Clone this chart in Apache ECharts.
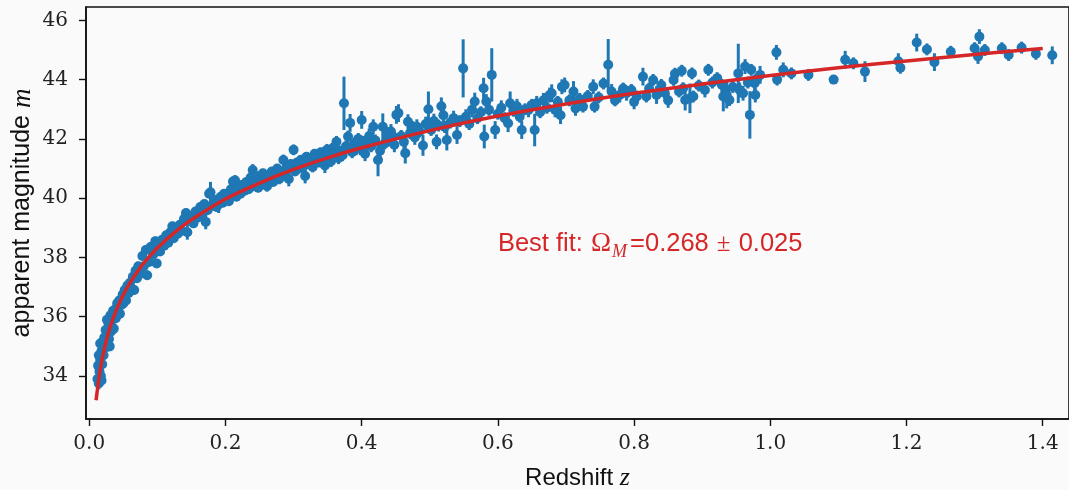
<!DOCTYPE html>
<html>
<head>
<meta charset="utf-8">
<script src="https://cdn.jsdelivr.net/npm/echarts@6/dist/echarts.min.js"></script>
<style>
  html, body { margin: 0; padding: 0; background: #fafafa; }
  #chart { width: 1069px; height: 490px; }
</style>
</head>
<body>
<div id="chart"></div>
<script>
// supernovae: [redshift z, apparent magnitude m, error]
var lowZ = [
  [0.012,33.90,0.20],[0.013,34.35,0.20],[0.014,33.75,0.20],[0.014,34.70,0.18],[0.015,34.15,0.18],
  [0.016,34.55,0.18],[0.016,35.10,0.18],[0.017,34.00,0.18],[0.018,34.85,0.16],[0.018,33.85,0.18],
  [0.019,34.40,0.16],[0.020,35.00,0.16],[0.021,34.70,0.16],[0.022,35.30,0.16],[0.023,34.95,0.16],
  [0.024,35.55,0.15],[0.025,35.20,0.15],[0.026,35.90,0.15],[0.027,35.45,0.15],[0.028,35.80,0.15],
  [0.029,35.25,0.15],[0.030,35.00,0.15],[0.030,35.65,0.15],[0.031,36.05,0.15],[0.032,35.50,0.15],
  [0.034,35.90,0.15],[0.035,36.20,0.15],[0.036,35.60,0.15],[0.038,36.25,0.15],[0.039,35.95,0.15],
  [0.041,36.45,0.15],[0.042,36.10,0.15],[0.044,36.55,0.15],[0.045,36.10,0.15],[0.047,36.40,0.15],
  [0.049,36.75,0.15],[0.050,36.45,0.15],[0.052,36.90,0.15],[0.054,36.55,0.15],[0.056,37.05,0.15],
  [0.058,36.80,0.15],[0.060,37.15,0.15],[0.062,36.95,0.15],[0.064,37.35,0.15],[0.066,36.90,0.15],
  [0.068,37.55,0.15],[0.070,37.30,0.15],[0.072,37.70,0.15],[0.075,37.45,0.15],[0.078,38.05,0.15],
  [0.080,37.70,0.15],[0.083,38.25,0.15],[0.085,37.40,0.15],[0.088,37.85,0.15],[0.090,38.35,0.15],
  [0.094,38.10,0.15],[0.097,38.55,0.15],[0.099,37.80,0.15]
];
var midZ = [
  [0.101,38.45,0.15],[0.104,38.20,0.15],[0.107,38.60,0.15],[0.110,38.40,0.15],[0.113,38.75,0.15],
  [0.116,38.50,0.15],[0.119,38.85,0.15],[0.122,39.05,0.15],[0.124,38.65,0.15],[0.127,38.95,0.15],
  [0.130,38.80,0.15],[0.133,39.10,0.15],[0.136,38.90,0.15],[0.139,39.30,0.15],[0.142,39.50,0.15],
  [0.144,38.85,0.25],[0.147,39.25,0.15],[0.150,39.40,0.15],[0.153,39.15,0.15],[0.156,39.55,0.15],
  [0.160,39.35,0.15],[0.163,39.70,0.15],[0.166,39.45,0.15],[0.169,39.80,0.15],[0.171,39.20,0.25],
  [0.174,39.60,0.15],[0.176,40.15,0.15],[0.178,40.20,0.35],[0.181,39.75,0.15],[0.184,39.95,0.15],
  [0.187,39.70,0.15],[0.190,39.80,0.30],[0.193,40.05,0.15],[0.196,39.85,0.15],[0.198,40.15,0.15],
  [0.202,40.10,0.15],[0.205,39.90,0.15],[0.208,40.30,0.15],[0.211,40.56,0.15],[0.214,40.60,0.18],
  [0.216,40.05,0.15],[0.219,40.35,0.15],[0.222,40.15,0.15],[0.225,40.45,0.15],[0.228,40.25,0.15],
  [0.231,40.55,0.15],[0.234,40.30,0.15],[0.237,40.70,0.15],[0.240,40.95,0.20],[0.242,40.40,0.15],
  [0.245,40.60,0.15],[0.248,40.35,0.15],[0.250,40.75,0.15],[0.253,40.50,0.15],[0.255,40.84,0.15],
  [0.258,40.60,0.15],[0.261,40.40,0.18],[0.264,40.75,0.15],[0.268,40.90,0.15],[0.270,40.55,0.15],
  [0.273,40.80,0.15],[0.276,41.00,0.15],[0.279,40.65,0.18],[0.282,40.90,0.15],[0.285,41.29,0.18],
  [0.288,40.80,0.15],[0.290,41.05,0.15],[0.293,40.65,0.25],[0.296,41.15,0.15],[0.300,41.63,0.18],
  [0.302,40.90,0.15],[0.305,41.20,0.15],[0.308,41.00,0.15],[0.311,41.30,0.15],[0.314,41.06,0.20],
  [0.317,40.75,0.25],[0.319,41.40,0.15],[0.322,41.15,0.15],[0.325,41.35,0.15],[0.328,41.05,0.18],
  [0.331,41.50,0.15],[0.334,41.40,0.20],[0.337,41.20,0.15],[0.340,41.55,0.15],[0.343,41.30,0.20],
  [0.346,41.10,0.25],[0.349,41.63,0.20],[0.352,41.40,0.15],[0.355,41.25,0.20],[0.358,41.70,0.15],
  [0.360,41.50,0.15],[0.363,41.90,0.20],[0.366,41.35,0.20],[0.369,41.60,0.15],[0.372,41.45,0.20],
  [0.374,43.20,0.90],[0.377,41.75,0.20],[0.380,42.08,0.20],[0.383,42.54,0.30],[0.386,41.55,0.20],
  [0.389,41.85,0.20],[0.392,41.65,0.20],[0.395,42.00,0.20],[0.398,41.70,0.25],[0.400,42.64,0.30],
  [0.402,41.90,0.20],[0.405,41.50,0.25],[0.408,41.80,0.20],[0.411,42.10,0.25],[0.414,41.75,0.20],
  [0.417,42.41,0.25],[0.420,41.95,0.20],[0.424,41.29,0.55],[0.427,41.60,0.25],[0.431,42.41,0.45],
  [0.434,41.85,0.20],[0.437,42.15,0.25],[0.440,41.95,0.20],[0.443,42.25,0.25],[0.446,42.08,0.20],
  [0.448,41.80,0.25]
];
var highZ = [
  [0.451,42.81,0.30],[0.454,42.87,0.30],[0.458,42.10,0.20],[0.462,41.90,0.25],[0.464,41.52,0.35],
  [0.468,42.58,0.25],[0.471,42.20,0.20],[0.475,42.40,0.20],[0.478,42.05,0.25],[0.481,42.41,0.25],
  [0.485,42.25,0.20],[0.490,41.78,0.35],[0.494,42.50,0.25],[0.498,43.00,0.60],[0.502,42.30,0.20],
  [0.506,42.60,0.25],[0.510,41.90,0.25],[0.513,42.45,0.20],[0.517,43.10,0.30],[0.520,42.80,0.25],
  [0.522,42.40,0.20],[0.525,41.96,0.35],[0.530,42.55,0.20],[0.535,42.70,0.25],[0.540,42.13,0.30],
  [0.544,42.60,0.20],[0.549,44.38,0.98],[0.553,42.75,0.25],[0.558,42.50,0.20],[0.562,42.98,0.25],
  [0.566,43.26,0.30],[0.570,42.70,0.20],[0.575,42.90,0.20],[0.579,43.71,0.35],[0.580,42.08,0.40],
  [0.583,43.26,0.25],[0.587,42.98,0.20],[0.591,44.16,0.90],[0.596,42.30,0.30],[0.600,42.85,0.20],
  [0.605,43.05,0.25],[0.610,42.70,0.20],[0.615,42.53,0.30],[0.618,43.20,0.40],[0.623,42.95,0.20],
  [0.628,43.10,0.25],[0.632,42.75,0.20],[0.635,42.30,0.30],[0.640,43.00,0.20],[0.645,42.98,0.25],
  [0.650,43.15,0.20],[0.654,42.30,0.55],[0.657,43.20,0.25],[0.662,42.90,0.20],[0.667,43.30,0.25],
  [0.672,43.05,0.20],[0.676,43.48,0.25],[0.679,43.54,0.30],[0.684,42.98,0.25],[0.688,43.25,0.20],
  [0.692,42.80,0.30],[0.694,43.76,0.25],[0.698,43.82,0.25],[0.705,43.30,0.20],[0.711,43.60,0.35],
  [0.714,43.03,0.25],[0.720,43.35,0.20],[0.725,43.09,0.20],[0.732,43.45,0.20],[0.740,43.76,0.25],
  [0.742,43.09,0.20],[0.748,43.40,0.20],[0.755,43.87,0.20],[0.762,44.50,0.87],[0.767,43.60,0.25],
  [0.772,43.30,0.20],[0.779,43.48,0.25],[0.784,43.70,0.20],[0.789,43.54,0.25],[0.796,43.65,0.20],
  [0.800,43.25,0.25],[0.804,43.43,0.20],[0.813,44.10,0.30],[0.818,43.43,0.20],[0.822,43.70,0.20],
  [0.828,43.99,0.20],[0.833,43.48,0.30],[0.840,43.82,0.20],[0.845,43.55,0.20],[0.850,43.30,0.25],
  [0.858,43.99,0.20],[0.860,44.20,0.20],[0.866,43.60,0.20],[0.870,44.30,0.20],[0.872,43.71,0.20],
  [0.875,43.31,0.35],[0.882,43.37,0.50],[0.885,44.21,0.20],[0.887,43.43,0.20],[0.895,43.80,0.20],
  [0.904,43.65,0.25],[0.909,44.33,0.20],[0.915,43.90,0.20],[0.922,44.05,0.20],[0.929,43.82,0.20],
  [0.931,43.43,0.50],[0.934,43.60,0.20],[0.936,43.48,0.45],[0.940,43.31,0.20],[0.945,43.75,0.20]
];
var farZ = [
  [0.953,44.21,1.00],[0.955,43.65,0.25],[0.960,43.54,0.25],[0.963,44.44,0.25],[0.967,43.90,0.20],
  [0.970,42.81,0.80],[0.972,44.33,0.20],[0.977,43.88,0.25],[0.978,43.48,0.25],[0.981,44.05,0.20],
  [0.985,44.16,0.30],[1.009,44.92,0.25],[1.010,44.00,0.20],[1.019,44.33,0.25],[1.031,44.21,0.20],
  [1.056,44.16,0.20],[1.093,44.00,0.15],[1.110,44.67,0.30],[1.122,44.55,0.20],[1.139,44.27,0.35],
  [1.188,44.62,0.27],[1.191,44.40,0.20],[1.215,45.25,0.30],[1.230,45.02,0.20],[1.241,44.59,0.30],
  [1.265,44.94,0.20],[1.300,45.06,0.20],[1.305,44.78,0.25],[1.307,45.45,0.25],[1.315,45.00,0.20],
  [1.340,45.06,0.20],[1.350,44.83,0.20],[1.369,45.08,0.20],[1.390,44.87,0.20],[1.414,44.82,0.30]
];

// best fit curve (red)
var fitZ = [0.01,0.015,0.02,0.03,0.04,0.05,0.06,0.07,0.08,0.1,0.125,0.15,0.2,0.25,0.3,0.35,0.4,
            0.5,0.6,0.7,0.8,0.9,1.0,1.1,1.2,1.3,1.4];
var fitMag = [33.18,34.06,34.70,35.60,36.24,36.74,37.15,37.50,37.81,38.32,38.84,39.27,39.97,40.51,
              40.97,41.36,41.70,42.28,42.77,43.18,43.54,43.85,44.14,44.40,44.63,44.85,45.05];

var xTicks = [0.0, 0.2, 0.4, 0.6, 0.8, 1.0, 1.2, 1.4];
var yTicks = [34, 36, 38, 40, 42, 44, 46];

var blue = '#1f77b4';
var red = '#d62728';
var sans = 'Liberation Sans';
var serif = 'DejaVu Serif';

var allSn = lowZ.concat(midZ, highZ, farZ);

var myChart = echarts.init(document.getElementById('chart'));

var option = {
  backgroundColor: '#fafafa',
  animation: false,
  grid: {
    left: 86,
    top: 7,
    right: 0,
    bottom: 71,
    outerBoundsMode: 'none',
    containLabel: false,
    show: true,
    borderColor: '#111',
    borderWidth: 1.6,
    backgroundColor: 'transparent'
  },
  xAxis: {
    type: 'value',
    min: -0.0048,
    max: 1.4386,
    splitLine: { show: false },
    axisLine: { show: true, onZero: false, lineStyle: { color: '#111', width: 1.6 } },
    axisTick: { show: true, length: 7, customValues: xTicks, lineStyle: { color: '#111', width: 1.4 } },
    axisLabel: {
      customValues: xTicks,
      formatter: function (v) { return v.toFixed(1); },
      fontFamily: serif,
      fontSize: 20,
      color: '#222',
      margin: 15
    },
    name: '{t|Redshift }{i|z}',
    nameLocation: 'middle',
    nameGap: 46,
    nameTextStyle: {
      rich: {
        t: { fontFamily: sans, fontSize: 24, color: '#111' },
        i: { fontFamily: 'Liberation Serif', fontStyle: 'italic', fontSize: 26, color: '#111' }
      }
    }
  },
  yAxis: {
    type: 'value',
    min: 32.55,
    max: 46.45,
    splitLine: { show: false },
    axisLine: { show: true, onZero: false, lineStyle: { color: '#111', width: 1.6 } },
    axisTick: { show: true, length: 7, customValues: yTicks, lineStyle: { color: '#111', width: 1.4 } },
    axisLabel: {
      customValues: yTicks,
      fontFamily: serif,
      fontSize: 20,
      color: '#222',
      margin: 18
    },
    name: '{t|apparent magnitude }{i|m}',
    nameLocation: 'middle',
    nameGap: 50,
    nameMoveOverlap: false,
    nameTextStyle: {
      rich: {
        t: { fontFamily: sans, fontSize: 25, color: '#111' },
        i: { fontFamily: 'Liberation Serif', fontStyle: 'italic', fontSize: 27, color: '#111' }
      }
    }
  },
  series: [
    {
      // error bars
      type: 'custom',
      z: 1,
      data: allSn,
      encode: { x: 0, y: 1 },
      renderItem: function (params, api) {
        var z = api.value(0), m = api.value(1), e = api.value(2);
        var top = api.coord([z, m + e]);
        var bot = api.coord([z, m - e]);
        return {
          type: 'line',
          shape: { x1: top[0], y1: top[1], x2: bot[0], y2: bot[1] },
          style: { stroke: blue, lineWidth: 3 }
        };
      }
    },
    {
      type: 'scatter',
      z: 2,
      symbol: 'circle',
      symbolSize: 10,
      itemStyle: { color: blue, opacity: 1 },
      data: allSn.map(function (d) { return [d[0], d[1]]; })
    },
    {
      type: 'line',
      z: 3,
      showSymbol: false,
      smooth: 0.3,
      lineStyle: { color: red, width: 3.5 },
      data: fitZ.map(function (z, i) { return [z, fitMag[i]]; })
    }
  ]
};
myChart.setOption(option);

// annotation anchored in data coordinates, left-middle at (0.6, 38.45)
var annotAt = myChart.convertToPixel({ gridIndex: 0 }, [0.6, 38.45]);
myChart.setOption({
  graphic: [{
    type: 'text',
    x: annotAt[0],
    y: annotAt[1],
    style: {
      text: '{s|Best fit: }{g|\u03A9}{sub|M}{s|=0.268 }{pm|\u00B1}{s| 0.025}',
      textVerticalAlign: 'middle',
      fill: red,
      rich: {
        s: { fontFamily: sans, fontSize: 25.5, fill: red, lineHeight: 28 },
        g: { fontFamily: 'Liberation Serif', fontSize: 27, fill: red, lineHeight: 28, padding: [0, 0, 0, 1] },
        pm: { fontFamily: 'Liberation Serif', fontSize: 25, fill: red, lineHeight: 28, padding: [0, 1, 0, 1] },
        sub: { fontFamily: 'Liberation Serif', fontStyle: 'italic', fontSize: 18, fill: red,
               lineHeight: 28, padding: [16, 3, 0, 1] }
      }
    }
  }]
});
</script>
</body>
</html>
